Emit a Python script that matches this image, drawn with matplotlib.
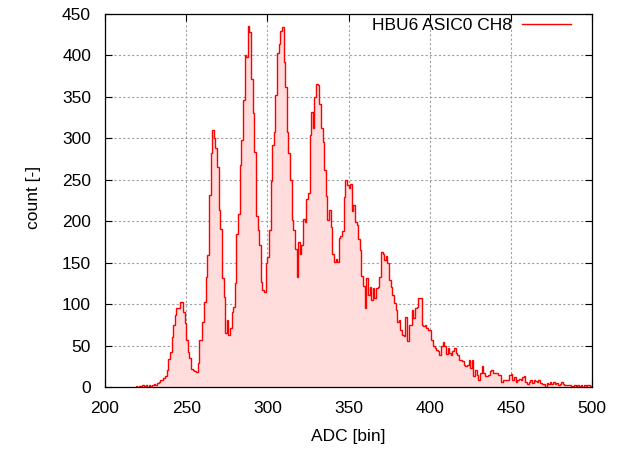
import numpy as np
import matplotlib
matplotlib.use("Agg")
import matplotlib.pyplot as plt

plt.rcParams['font.family'] = ['Liberation Sans', 'DejaVu Sans']

# histogram: one count per ADC bin, first bin at 219
adc_start = 219
counts = [
    1, 0, 1, 0, 2, 1, 2, 0, 2, 1,
    3, 4, 3, 5, 6, 8, 9, 11, 13, 20,
    34, 42, 60, 75, 87, 95, 95, 103, 103, 90,
    77, 57, 42, 35, 22, 20, 19, 18, 29, 57,
    57, 78, 103, 133, 159, 232, 282, 310, 300, 288,
    266, 214, 191, 131, 109, 65, 81, 63, 71, 91,
    97, 125, 185, 209, 268, 298, 346, 400, 398, 435,
    428, 372, 330, 284, 206, 190, 171, 127, 117, 115,
    149, 157, 189, 248, 292, 308, 352, 403, 414, 430,
    434, 392, 362, 308, 282, 250, 201, 190, 167, 133,
    175, 161, 171, 203, 199, 227, 234, 304, 332, 312,
    350, 366, 364, 342, 312, 296, 262, 231, 201, 213,
    193, 161, 151, 155, 151, 180, 182, 188, 229, 250,
    244, 240, 245, 212, 220, 199, 195, 179, 165, 134,
    122, 95, 131, 111, 121, 105, 119, 107, 119, 121,
    133, 163, 161, 153, 158, 149, 129, 121, 111, 101,
    93, 79, 81, 69, 63, 61, 85, 55, 75, 75,
    93, 83, 95, 97, 107, 107, 75, 73, 75, 71,
    69, 69, 57, 49, 47, 45, 43, 39, 49, 54,
    49, 40, 47, 41, 39, 43, 47, 41, 39, 33,
    33, 31, 27, 25, 27, 33, 23, 33, 13, 21,
    15, 9, 17, 25, 17, 13, 13, 15, 19, 21,
    17, 17, 17, 14, 14, 6, 8, 8, 8, 8,
    14, 16, 9, 12, 6, 9, 10, 8, 12, 13,
    6, 4, 6, 8, 5, 8, 7, 6, 8, 5,
    4, 4, 0, 5, 4, 6, 4, 6, 4, 5,
    3, 4, 6, 4, 2, 3, 2, 2, 1, 0,
    2, 0, 2, 1, 2, 0, 2, 1, 2, 2, 1,
]
label = "HBU6 ASIC0 CH8"
x_ticks = [200, 250, 300, 350, 400, 450, 500]
y_ticks = [0, 50, 100, 150, 200, 250, 300, 350, 400, 450]

edges = np.arange(adc_start, adc_start + len(counts) + 1)

fig = plt.figure(figsize=(6.19, 4.49), dpi=100)
ax = fig.add_axes([105 / 619, 1 - 387 / 449, 487 / 619, 373 / 449])

ax.stairs(counts, edges, fill=True, color="#ffdddd", zorder=2)
ax.stairs(counts, edges, color="red", lw=1.0, zorder=3, label=label)

ax.set_xlim(200, 500)
ax.set_ylim(0, 450)
ax.set_xticks(x_ticks)
ax.set_yticks(y_ticks)
ax.tick_params(direction="in", length=5, width=0.8, labelsize=12.5,
               top=True, right=True, pad=10)
ax.grid(True, color="#a0a0a0", lw=0.8, linestyle=(0, (2, 2)), zorder=1)
ax.set_axisbelow(True)
for s in ax.spines.values():
    s.set_linewidth(0.9)
    s.set_zorder(4)

ax.set_xlabel("ADC [bin]", fontsize=12.5)
ax.set_ylabel("count [-]", fontsize=12.5)
ax.xaxis.set_label_coords(0.499, -0.113)
ax.yaxis.set_label_coords(-0.131, 0.508)

ax.legend(loc="upper right", bbox_to_anchor=(0.957, 0.99), frameon=False,
          markerfirst=False, handlelength=2.8, handletextpad=0.6,
          borderpad=0, borderaxespad=0, fontsize=12.5)

fig.savefig("out.png", dpi=100)
